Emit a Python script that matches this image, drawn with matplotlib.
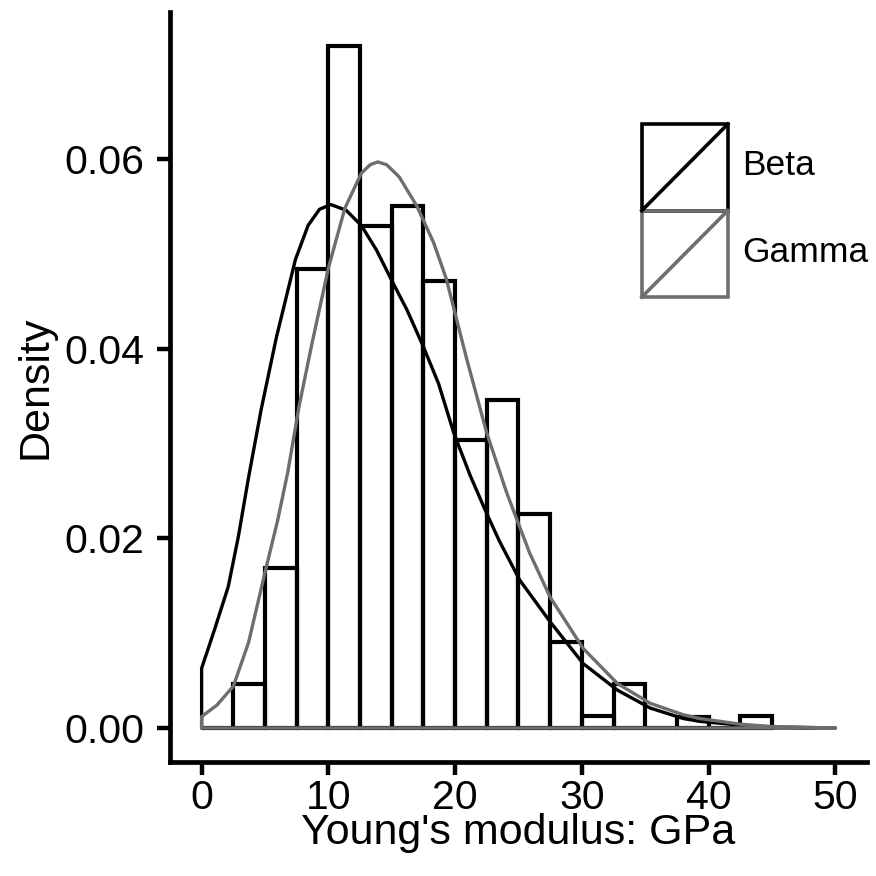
import matplotlib

matplotlib.use("Agg")
import matplotlib.pyplot as plt
from matplotlib.patches import Rectangle

# histogram of Young's modulus (density scale), bins 2.5 GPa wide
bin_width = 2.5
bin_starts = [0, 2.5, 5, 7.5, 10, 12.5, 15, 17.5, 20, 22.5,
              25, 27.5, 30, 32.5, 35, 37.5, 40, 42.5]
bin_density = [0.0, 0.0046, 0.0169, 0.0484, 0.0719, 0.0529, 0.0550, 0.0471, 0.0304,
               0.0346, 0.0226, 0.0091, 0.0013, 0.0046, 0.0, 0.0012, 0.0, 0.0013]

# fitted densities
beta_x = [0, 1.0, 2.1, 2.9, 3.7, 4.7, 5.9, 7.4, 8.4, 9.3, 10.2, 11.4, 12.6, 13.8,
          15.0, 16.2, 17.5, 18.7, 19.9, 21.2, 22.5, 23.5, 25.1, 27.5, 30.1, 32.8,
          35.4, 38.0, 39.3, 42.5, 45.0, 50.0]
beta_y = [0.0063, 0.0103, 0.0149, 0.0202, 0.0264, 0.0336, 0.0412, 0.0494, 0.0530,
          0.0547, 0.0552, 0.0546, 0.0530, 0.0504, 0.0472, 0.0441, 0.0402, 0.0363,
          0.0311, 0.0266, 0.0226, 0.0197, 0.0156, 0.0112, 0.0068, 0.0040, 0.0021,
          0.0010, 0.0007, 0.0003, 0.0001, 0.0]

gamma_x = [0, 1.2, 2.5, 3.7, 5.0, 6.0, 6.8, 7.7, 8.7, 10.0, 11.3, 12.6, 13.3, 13.9,
           14.6, 15.6, 17.0, 18.3, 19.3, 20.9, 22.5, 24.1, 25.9, 27.5, 30.1, 32.8,
           35.4, 38.0, 39.3, 42.5, 45.0, 50.0]
gamma_y = [0.0012, 0.0024, 0.0044, 0.0090, 0.0164, 0.0219, 0.0270, 0.0340, 0.0405,
           0.0485, 0.0548, 0.0585, 0.0594, 0.0597, 0.0594, 0.0581, 0.0550, 0.0512,
           0.0474, 0.0390, 0.0311, 0.0247, 0.0184, 0.0138, 0.0084, 0.0047, 0.0026,
           0.0014, 0.0010, 0.0004, 0.00015, 0.0]

legend_labels = ["Beta", "Gamma"]
x_ticks = [0, 10, 20, 30, 40, 50]
y_ticks = [0.00, 0.02, 0.04, 0.06]

BLACK = "#000000"
GREY = "#6e6e6e"

plt.rcParams["font.family"] = ["Liberation Sans", "DejaVu Sans"]

fig = plt.figure(figsize=(8.76, 8.76), dpi=100)
ax = fig.add_axes([0.194, 0.130, 0.7957, 0.8562])

ax.bar(bin_starts, bin_density, width=bin_width, align="edge",
       fill=False, edgecolor=BLACK, linewidth=3.0)

# curves drawn as open polygons closed along the baseline
ax.fill(beta_x + [0], beta_y + [0], fill=False, edgecolor=BLACK,
        linewidth=2.4, joinstyle="round")
ax.fill(gamma_x + [0], gamma_y + [0], fill=False, edgecolor=GREY,
        linewidth=2.4, joinstyle="round")

ax.set_xlim(-2.5, 52.5)
ax.set_ylim(-0.0036, 0.0755)
ax.set_xticks(x_ticks)
ax.set_xticklabels([str(t) for t in x_ticks])
ax.set_yticks(y_ticks)
ax.set_yticklabels([f"{t:.2f}" for t in y_ticks])

for side in ["top", "right"]:
    ax.spines[side].set_visible(False)
for side in ["left", "bottom"]:
    ax.spines[side].set_linewidth(3.4)
ax.tick_params(axis="both", length=9.5, width=3.2, labelsize=29.5, color=BLACK)
ax.tick_params(axis="y", pad=9)
ax.tick_params(axis="x", pad=2.5)

ax.set_xlabel("Young's modulus: GPa", fontsize=31, labelpad=-3)
ax.set_ylabel("Density", fontsize=31, labelpad=6)

# legend keys: box with a diagonal stroke
key_w, key_h = 0.1234, 0.1153
key_x = 0.677
key_tops = [0.8507, 0.8507 - key_h]
for label, color, top in zip(legend_labels, [BLACK, GREY], key_tops):
    ax.add_patch(Rectangle((key_x, top - key_h), key_w, key_h, transform=ax.transAxes,
                           fill=False, edgecolor=color, linewidth=2.6, clip_on=False))
    ax.plot([key_x, key_x + key_w], [top - key_h, top], transform=ax.transAxes,
            color=color, linewidth=2.6, clip_on=False)
    ax.text(key_x + key_w + 0.02, top - key_h / 2 + 0.002, label, transform=ax.transAxes,
            fontsize=25.5, va="center", ha="left")

fig.savefig("out.png", dpi=100)
